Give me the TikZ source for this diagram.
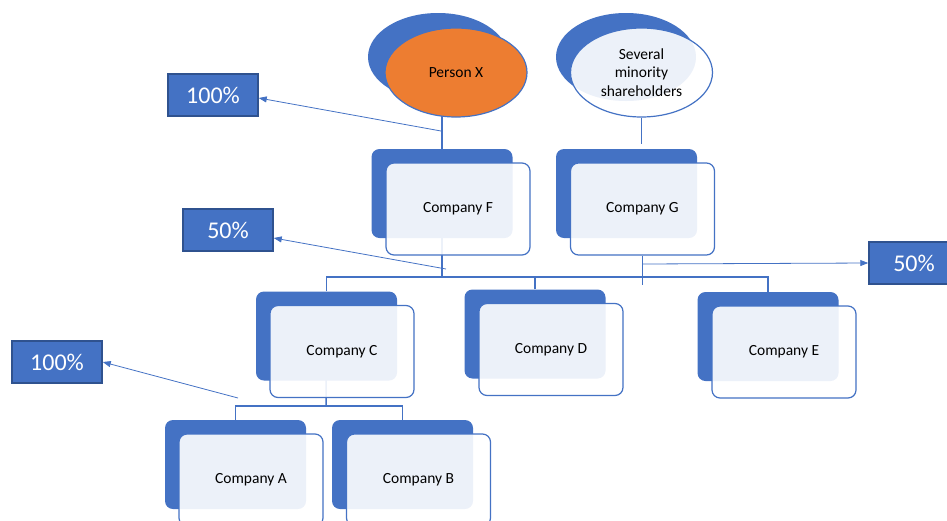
\documentclass[tikz,border=0pt]{standalone}
\usepackage{fontspec}
\setmainfont{Carlito}
\usetikzlibrary{shapes.geometric,arrows.meta,backgrounds}
\definecolor{accent}{HTML}{4472C4}
\definecolor{accentdark}{HTML}{2F528F}
\definecolor{personfill}{HTML}{ED7D31}

\begin{document}
\begin{tikzpicture}[x=1pt, y=-1pt,
    backcard/.style={rectangle, rounded corners=8pt, fill=accent, minimum width=141pt, minimum height=89pt},
    frontcard/.style={rectangle, rounded corners=8pt, draw=accent, line width=1.2pt, fill=white, fill opacity=0.9, text opacity=1, minimum width=144pt, minimum height=92pt, font=\fontsize{15.5}{18.5}\selectfont},
    backoval/.style={ellipse, fill=accent, inner sep=0pt, minimum width=140pt, minimum height=88pt},
    frontoval/.style={ellipse, draw=accent, line width=1.2pt, inner sep=0pt, minimum width=142pt, minimum height=89pt, align=center, font=\fontsize{15.5}{18.5}\selectfont},
    pctbox/.style={rectangle, fill=accent, draw=accentdark, line width=1.5pt, minimum width=90pt, minimum height=42pt, text=white, font=\fontsize{24}{28}\selectfont},
    link/.style={draw=accent, line width=1.5pt},
    pctarrow/.style={draw=accent, line width=0.8pt, -{Triangle[length=8pt,width=6pt]}}]
    \useasboundingbox (0,0) rectangle (947,520);
    \clip (0,0) rectangle (947,520);
    % shareholders
    \node[backoval] (Xb) at (438,57) {};
    \node[frontoval, fill=personfill] (X) at (456,72.5) {Person X};
    \node[backoval] (Sb) at (626,57) {};
    \node[frontoval, fill=white, fill opacity=0.9, text opacity=1] (S) at (641.5,72.5) {Several\\minority\\shareholders};
    % companies
    \node[backcard] (Fb) at (442,193.5) {};
    \node[frontcard] (F) at (458,209) {Company F};
    \node[backcard] (Gb) at (626.5,193.5) {};
    \node[frontcard] (G) at (642.5,209) {Company G};
    \node[backcard] (Cb) at (326.5,336) {};
    \node[frontcard] (C) at (342,351.5) {Company C};
    \node[backcard] (Db) at (535,334) {};
    \node[frontcard] (D) at (551,349.5) {Company D};
    \node[backcard] (Eb) at (768,336.5) {};
    \node[frontcard] (E) at (784,352) {Company E};
    \node[backcard] (Ab) at (235.5,464.5) {};
    \node[frontcard] (A) at (251,480) {Company A};
    \node[backcard] (Bb) at (402.5,464.5) {};
    \node[frontcard] (B) at (418.5,480) {Company B};
    % percentages
    \node[pctbox] (pX) at (213,95) {100\%};
    \node[pctbox] (pF) at (228,230) {50\%};
    \node[pctbox] (pG) at (914,263) {50\%};
    \node[pctbox] (pC) at (57,362) {100\%};
    \coordinate (busF) at (442,277);
    \coordinate (busC) at (326,406);
    \coordinate (x100) at (441,131);
    \coordinate (f50) at (446,269);
    \coordinate (g50) at (642.5,264);
    \coordinate (c100) at (238,398);
    \begin{pgfonlayer}{background}
    \draw[link] (Fb.center) -- (Fb.center |- X.center);
    \draw[link, shorten >=5pt] (S.south) -- (S.south |- Gb.north);
    \draw[link] (Fb.center) -- (busF);
    \draw[link] (Cb.north) -- (Cb.north |- busF) -- (Eb.north |- busF) -- (Eb.north);
    \draw[link] (Db.north) -- (Db.north |- busF);
    \draw[link] (G.south) -- ++(0,29);
    \draw[link] (Cb.center) -- (busC);
    \draw[link] (Ab.north) -- (Ab.north |- busC) -- (Bb.north |- busC) -- (Bb.north);
    \end{pgfonlayer}
    \draw[pctarrow] (x100) -- ([yshift=-3pt]pX.east);
    \draw[pctarrow] (f50) -- ([yshift=-8pt]pF.east);
    \draw[pctarrow] (g50) -- (pG.west);
    \draw[pctarrow] (c100) -- (pC.east);
\end{tikzpicture}
\end{document}
